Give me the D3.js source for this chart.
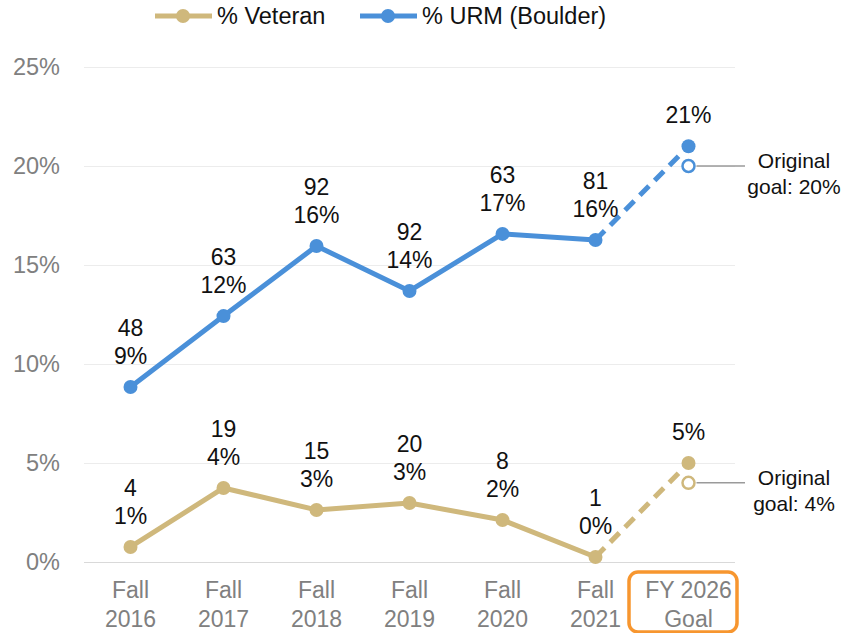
<!DOCTYPE html>
<html><head><meta charset="utf-8">
<script src="https://cdn.jsdelivr.net/npm/d3@7"></script>
<style>
body{margin:0;background:#fff}
svg{display:block}
text{font-family:"Liberation Sans",Arial,Helvetica,sans-serif}
</style>
</head><body>
<svg id="chart" width="842" height="633"></svg>
<script>
// Category labels (two lines each)
const categories = [
  ["Fall", "2016"], ["Fall", "2017"], ["Fall", "2018"], ["Fall", "2019"],
  ["Fall", "2020"], ["Fall", "2021"], ["FY 2026", "Goal"]
];
// % URM (Boulder) and headcounts; last entry is the FY 2026 goal
const urmPct   = [8.84, 12.42, 15.96, 13.69, 16.57, 16.26, 21.0];
const urmCount = [48, 63, 92, 92, 63, 81, null];
// % Veteran and headcounts
const vetPct   = [0.76, 3.74, 2.63, 2.98, 2.12, 0.25, 5.0];
const vetCount = [4, 19, 15, 20, 8, 1, null];
// Original goals
const urmOriginalGoal = 20;
const vetOriginalGoal = 4;
// Y axis ticks (%)
const yTicks = [0, 5, 10, 15, 20, 25];

const URM_COLOR = "#4a90d9";
const VET_COLOR = "#cfb87c";

const svg = d3.select("#chart");
const plotLeft = 84, plotRight = 735, plotTop = 67, plotBottom = 562;

const x = d3.scaleBand().domain(d3.range(categories.length)).range([plotLeft, plotRight]);
const cx = i => x(i) + x.bandwidth() / 2;
const y = d3.scaleLinear().domain([0, 25]).range([plotBottom, plotTop]);

// Gridlines + y tick labels
const yAxis = svg.append("g")
  .attr("transform", `translate(${plotLeft},0)`)
  .call(d3.axisLeft(y).tickValues(yTicks).tickSize(-(plotRight - plotLeft)).tickPadding(24)
    .tickFormat(d => d + "%"));
yAxis.select(".domain").remove();
yAxis.selectAll(".tick line").attr("stroke", d => d === 0 ? "#d9d9d9" : "#ececec").attr("stroke-width", 1.2);
yAxis.selectAll(".tick text").attr("fill", "#808080").attr("font-size", 23.5)
  .attr("font-family", "'Liberation Sans', Arial, sans-serif");

// Category labels
const xl = svg.append("g");
categories.forEach((c, i) => {
  const t = xl.append("text").attr("text-anchor", "middle").attr("fill", "#808080").attr("font-size", 23);
  t.append("tspan").attr("x", cx(i)).attr("y", 598).text(c[0]);
  t.append("tspan").attr("x", cx(i)).attr("y", 627).text(c[1]);
});

// Highlight box around the goal category
const gi = categories.length - 1;
svg.append("rect")
  .attr("x", x(gi) - 13).attr("y", 572)
  .attr("width", x.bandwidth() + 15).attr("height", 60)
  .attr("rx", 9).attr("fill", "none")
  .attr("stroke", "#f7962f").attr("stroke-width", 3.5);

function drawSeries(vals, counts, goal, color) {
  const g = svg.append("g");
  const line = d3.line().x(d => cx(d[0])).y(d => y(d[1]));
  const pts = vals.map((v, i) => [i, v]);
  const last = vals.length - 1;
  g.append("path").datum(pts.slice(0, last))
    .attr("d", line).attr("fill", "none").attr("stroke", color)
    .attr("stroke-width", 5).attr("stroke-linejoin", "round");
  g.append("path").datum(pts.slice(last - 1))
    .attr("d", line).attr("fill", "none").attr("stroke", color)
    .attr("stroke-width", 5).attr("stroke-dasharray", "13,8");
  g.selectAll("circle.pt").data(pts).join("circle").attr("class", "pt")
    .attr("cx", d => cx(d[0])).attr("cy", d => y(d[1])).attr("r", 7).attr("fill", color);

  // original goal marker with leader line
  const gy = y(goal);
  g.append("line").attr("x1", cx(last) + 8).attr("x2", 745).attr("y1", gy).attr("y2", gy)
    .attr("stroke", "#9a9a9a").attr("stroke-width", 1.5);
  g.append("circle").attr("cx", cx(last)).attr("cy", gy).attr("r", 6)
    .attr("fill", "#fff").attr("stroke", color).attr("stroke-width", 2.5);
  const ann = g.append("text").attr("text-anchor", "middle").attr("font-size", 21).attr("fill", "#111");
  ann.append("tspan").attr("x", 794).attr("y", gy + 2).text("Original");
  ann.append("tspan").attr("x", 794).attr("y", gy + 28).text("goal: " + goal + "%");

  // value labels
  const fmt = v => Math.round(v) + "%";
  pts.forEach(([i, v]) => {
    const py = y(v);
    const t = g.append("text").attr("text-anchor", "middle").attr("font-size", 23).attr("fill", "#111");
    if (counts[i] != null) {
      t.append("tspan").attr("x", cx(i)).attr("y", py - 51).text(counts[i]);
    }
    t.append("tspan").attr("x", cx(i)).attr("y", py - 23).text(fmt(v));
  });
}

drawSeries(vetPct, vetCount, vetOriginalGoal, VET_COLOR);
drawSeries(urmPct, urmCount, urmOriginalGoal, URM_COLOR);

// Legend
const legend = svg.append("g");
[["% Veteran", VET_COLOR, 155], ["% URM (Boulder)", URM_COLOR, 360]].forEach(([label, color, lx]) => {
  legend.append("line").attr("x1", lx).attr("x2", lx + 57).attr("y1", 16).attr("y2", 16)
    .attr("stroke", color).attr("stroke-width", 5);
  legend.append("circle").attr("cx", lx + 28).attr("cy", 16).attr("r", 7).attr("fill", color);
  legend.append("text").attr("x", lx + 62).attr("y", 24).attr("font-size", 23.5).attr("fill", "#111").text(label);
});
</script>
</body></html>
